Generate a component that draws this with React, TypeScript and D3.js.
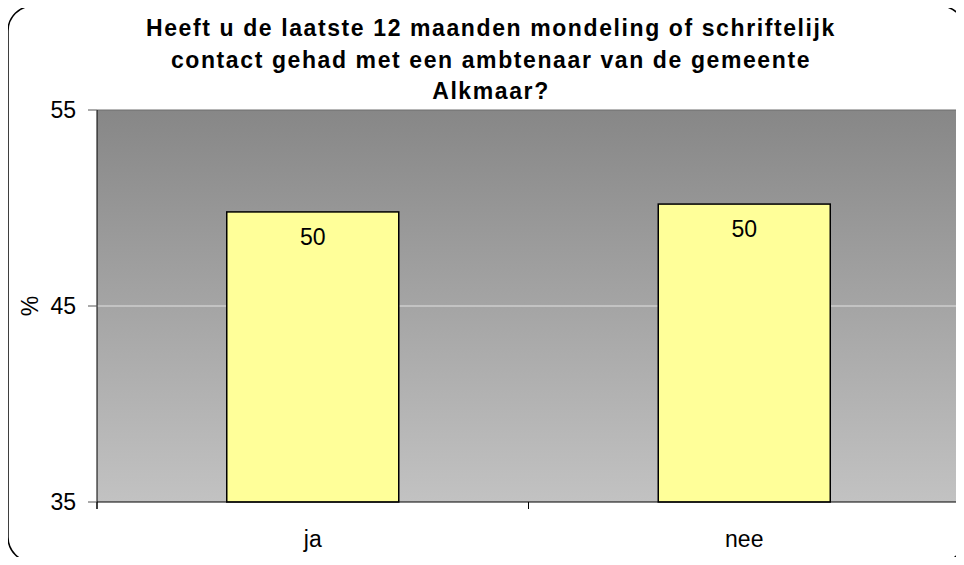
import React, { useEffect, useRef } from 'react';
import * as d3 from 'd3';

const categories = ['ja', 'nee'];
const values = [49.8, 50.2];
const valueLabels = ['50', '50'];
const yTicks = [35, 45, 55];
const titleLines = [
  'Heeft u de laatste 12 maanden mondeling of schriftelijk',
  'contact gehad met een ambtenaar van de gemeente',
  'Alkmaar?',
];

function App() {
  const ref = useRef<SVGSVGElement>(null);

  useEffect(() => {
    const width = 964;
    const height = 565;
    const left = 97, right = 960, top = 110, bottom = 502;

    const svg = d3.select(ref.current);
    svg.selectAll('*').remove();
    svg.attr('width', width).attr('height', height);

    const defs = svg.append('defs');
    const grad = defs.append('linearGradient')
      .attr('id', 'bg').attr('x1', 0).attr('y1', 0).attr('x2', 0).attr('y2', 1);
    grad.append('stop').attr('offset', '0%').attr('stop-color', '#878787');
    grad.append('stop').attr('offset', '100%').attr('stop-color', '#c2c2c2');

    // outer frame with shadow
    svg.append('rect')
      .attr('x', 10).attr('y', 8).attr('width', 957).attr('height', 556)
      .attr('rx', 25).attr('fill', '#000');
    svg.append('rect')
      .attr('x', 8).attr('y', 6).attr('width', 957).attr('height', 556)
      .attr('rx', 25).attr('fill', '#fff').attr('stroke', '#000').attr('stroke-width', 1.5);

    const font = '"Liberation Sans", Arial, sans-serif';

    svg.append('g').selectAll('text')
      .data(titleLines)
      .join('text')
      .attr('x', 491)
      .attr('y', (d, i) => 36 + i * 31.5)
      .attr('text-anchor', 'middle')
      .style('font-family', font)
      .style('font-size', '23px')
      .style('font-weight', 'bold')
      .style('letter-spacing', '1.6px')
      .text(d => d);

    const x = d3.scaleBand().domain(categories).range([left, right]).paddingInner(0.6).paddingOuter(0.3);
    const y = d3.scaleLinear().domain([35, 55]).range([bottom, top]);

    svg.append('rect')
      .attr('x', left).attr('y', top).attr('width', right - left).attr('height', bottom - top)
      .attr('fill', 'url(#bg)');
    svg.append('line')
      .attr('x1', left).attr('x2', right).attr('y1', top).attr('y2', top)
      .attr('stroke', '#6e6e6e').attr('stroke-width', 1.2);
    svg.append('line')
      .attr('x1', right).attr('x2', right).attr('y1', top).attr('y2', bottom)
      .attr('stroke', '#7a7a7a').attr('stroke-width', 1.2);

    svg.append('g').selectAll('line')
      .data(yTicks.filter(t => t !== 35 && t !== 55))
      .join('line')
      .attr('x1', left).attr('x2', right - 1)
      .attr('y1', d => y(d)).attr('y2', d => y(d))
      .attr('stroke', '#e2e2e2').attr('stroke-width', 1.2);

    const bw = 172;
    svg.append('g').selectAll('rect')
      .data(values)
      .join('rect')
      .attr('x', (d, i) => (x(categories[i]) as number) + x.bandwidth() / 2 - bw / 2)
      .attr('y', d => y(d))
      .attr('width', bw)
      .attr('height', d => y(35) - y(d))
      .attr('fill', '#ffff99')
      .attr('stroke', '#000')
      .attr('stroke-width', 1.5);

    svg.append('g').selectAll('text')
      .data(values)
      .join('text')
      .attr('x', (d, i) => (x(categories[i]) as number) + x.bandwidth() / 2)
      .attr('y', d => y(d) + 33)
      .attr('text-anchor', 'middle')
      .style('font-family', font)
      .style('font-size', '23px')
      .text((d, i) => valueLabels[i]);

    // axes
    svg.append('line')
      .attr('x1', left).attr('x2', left).attr('y1', top).attr('y2', bottom + 7)
      .attr('stroke', '#000').attr('stroke-width', 1);
    svg.append('line')
      .attr('x1', left).attr('x2', right).attr('y1', bottom).attr('y2', bottom)
      .attr('stroke', '#000').attr('stroke-width', 1.2);

    svg.append('g').selectAll('line')
      .data(yTicks)
      .join('line')
      .attr('x1', left - 9).attr('x2', left)
      .attr('y1', d => y(d)).attr('y2', d => y(d))
      .attr('stroke', '#555');
    svg.append('g').selectAll('text')
      .data(yTicks)
      .join('text')
      .attr('x', 76)
      .attr('y', d => y(d) + 8)
      .attr('text-anchor', 'end')
      .style('font-family', font)
      .style('font-size', '23px')
      .text(d => d);

    const xTickPos = [left, (left + right) / 2, right];
    svg.append('g').selectAll('line')
      .data(xTickPos)
      .join('line')
      .attr('x1', d => d).attr('x2', d => d)
      .attr('y1', bottom).attr('y2', bottom + 7)
      .attr('stroke', '#000');

    svg.append('g').selectAll('text')
      .data(categories)
      .join('text')
      .attr('x', d => (x(d) as number) + x.bandwidth() / 2)
      .attr('y', bottom + 45)
      .attr('text-anchor', 'middle')
      .style('font-family', font)
      .style('font-size', '23px')
      .text(d => d);

    svg.append('text')
      .attr('transform', `translate(38,${y(45)}) rotate(-90)`)
      .attr('text-anchor', 'middle')
      .style('font-family', font)
      .style('font-size', '23px')
      .text('%');
  }, []);

  return (
    <div style={{ margin: -8 }}>
      <svg ref={ref} style={{ display: 'block' }}></svg>
    </div>
  );
}

export default App;
